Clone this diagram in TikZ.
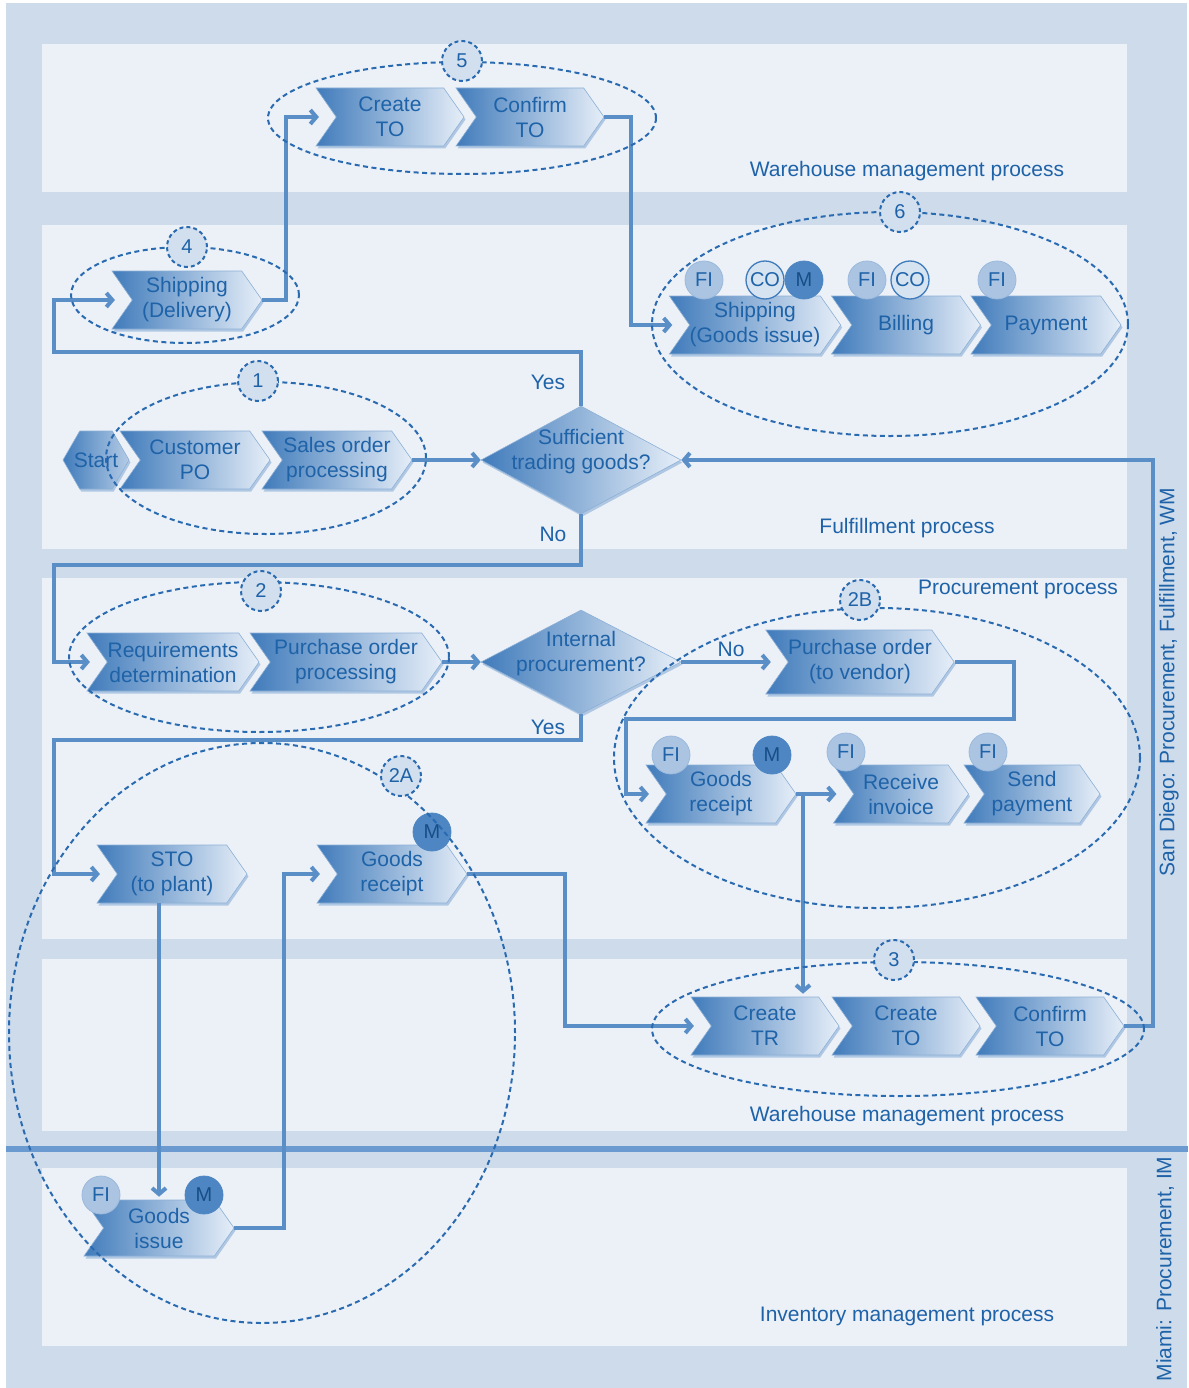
\documentclass[tikz,border=0pt]{standalone}
\usepackage{fontspec}
\setmainfont{Liberation Sans}
\usetikzlibrary{shapes.symbols,shapes.geometric,arrows.meta,shadows,calc}
\definecolor{bgouter}{HTML}{CDDBEB}
\definecolor{lanefill}{HTML}{ECF1F8}
\definecolor{txtblue}{HTML}{1E62A8}
\definecolor{linecol}{HTML}{5A8EC7}
\definecolor{dashcol}{HTML}{2A6AB0}
\definecolor{chevdark}{HTML}{407BBB}
\definecolor{chevlight}{HTML}{E6EEF8}
\definecolor{fifill}{HTML}{ABC4E2}
\definecolor{mfill}{HTML}{4D86C2}
\definecolor{cofill}{HTML}{D6E3F1}
\definecolor{numfill}{HTML}{D2DFEE}
\definecolor{divcol}{HTML}{6A9AD0}
\tikzset{
  lbl/.style={font=\fontsize{21}{25}\selectfont, text=txtblue, align=center, inner sep=0pt},
  chev/.style={signal, signal from=west, signal to=east, signal pointer angle=110,
    minimum width=#1, minimum height=58pt, inner sep=0pt,
    left color=chevdark, right color=chevlight, draw=chevdark!60, line width=0.6pt,
    drop shadow={shadow xshift=1.5pt, shadow yshift=-2.5pt, opacity=0.35, fill=chevdark},
    font=\fontsize{21}{25}\selectfont, text=txtblue, align=center},
  chev/.default=150pt,
  startbox/.style={signal, signal to=east and west, signal pointer angle=120,
    minimum width=66pt, minimum height=58pt, inner sep=0pt,
    left color=chevdark, right color=chevlight!70!chevdark, draw=chevdark!60, line width=0.6pt,
    drop shadow={shadow xshift=1.5pt, shadow yshift=-2.5pt, opacity=0.35, fill=chevdark}},
  dia/.style={diamond, minimum width=200pt, minimum height=108pt, inner sep=0pt,
    left color=chevdark, right color=chevlight, draw=chevdark!60, line width=0.6pt,
    drop shadow={shadow xshift=1.5pt, shadow yshift=-2.5pt, opacity=0.35, fill=chevdark}},
  badgefi/.style={circle, minimum size=38pt, inner sep=0pt, fill=fifill, draw=fifill!85!chevdark,
    line width=0.8pt, font=\fontsize{20}{20}\selectfont, text=txtblue},
  badgem/.style={badgefi, fill=mfill, draw=mfill, text=txtblue!80!black},
  badgeco/.style={badgefi, fill=cofill, draw=chevdark, line width=1.3pt},
  grp/.style={ellipse, inner sep=0pt, draw=dashcol, line width=2pt, dash pattern=on 5pt off 3.5pt},
  numc/.style={circle, minimum size=40pt, inner sep=0pt, fill=numfill, draw=dashcol, line width=2pt,
    dash pattern=on 4pt off 3pt, font=\fontsize{20}{20}\selectfont, text=txtblue},
  conn/.style={draw=linecol, line width=4pt, -{Straight Barb[length=6pt,width=14pt]}},
  lane/.style={fill=lanefill, draw=none},
}
\begin{document}
\begin{tikzpicture}[x=1pt,y=-1pt]
\useasboundingbox (0,0) rectangle (1188,1388);
\fill[white] (0,0) rectangle (1188,1388);
\fill[bgouter] (6,3) rectangle (1187,1388);
% lanes
\fill[lane] (42,44) rectangle (1127,192);
\fill[lane] (42,225) rectangle (1127,549);
\fill[lane] (42,578) rectangle (1127,939);
\fill[lane] (42,959) rectangle (1127,1131);
\fill[lane] (42,1168) rectangle (1127,1346);
\fill[divcol] (6,1146) rectangle (1188,1152);
% lane labels
\node[lbl] (l1) at (907,171) {Warehouse management process};
\node[lbl] (l2) at (907,528) {Fulfillment process};
\node[lbl] (l3) at (1018,589) {Procurement process};
\node[lbl] (l4) at (907,1116) {Warehouse management process};
\node[lbl] (l5) at (907,1316) {Inventory management process};
\node[lbl, rotate=90] (sd) at (1169,682) {San Diego: Procurement, Fulfillment, WM};
\node[lbl, rotate=90] (mi) at (1165,1269) {Miami: Procurement, IM};

% chevrons
\node[chev=148pt] (ct1) at (390,117) {Create\\TO};
\node[chev=148pt] (cf1) at (530,117) {Confirm\\TO};
\node[chev] (shd) at (187,300) {Shipping\\(Delivery)};
\node[chev=168pt] (shg) at (755,325) {Shipping\\(Goods issue)};
\node[chev=149pt] (bil) at (906,325) {Billing};
\node[chev] (pay) at (1046,325) {Payment};
\node[startbox] (st) at (96,460) {};
\node[lbl] (stt) at (st.center) {Start};
\node[chev] (cpo) at (195,460) {Customer\\PO};
\node[chev] (so) at (337,460) {Sales order\\processing};
\node[dia] (d1) at (581,460) {};
\node[lbl] (d1t) at (581,452) {Sufficient\\trading goods?};
\node[chev=172pt] (rd) at (173,662) {Requirements\\determination};
\node[chev=192pt] (pp) at (346,662) {Purchase order\\processing};
\node[dia, minimum height=104pt] (d2) at (581,662) {};
\node[lbl] (d2t) at (581,654) {Internal\\procurement?};
\node[chev=182pt, minimum height=64pt] (pov) at (860,662) {Purchase order\\(to vendor)};
\node[chev] (gr2b) at (721,794) {Goods\\receipt};
\node[chev=135pt] (ri) at (901,794) {Receive\\invoice};
\node[chev=136pt] (sp) at (1032,794) {Send\\payment};
\node[chev] (sto) at (172,874) {STO\\(to plant)};
\node[chev] (gr2a) at (392,874) {Goods\\receipt};
\node[chev, minimum height=56pt] (gi) at (159,1228) {Goods\\issue};
\node[chev=148pt] (ctr) at (765,1026) {Create\\TR};
\node[chev=148pt] (ct3) at (906,1026) {Create\\TO};
\node[chev=148pt] (cf3) at (1050,1026) {Confirm\\TO};

% connectors
\draw[conn] (shd.east) -- ++(24,0) |- ([xshift=-17pt]ct1.west);
\draw[conn] (cf1.east) -- ++(27,0) |- ([xshift=-17pt]shg.west);
\draw[conn] (d1.north) |- (54,352) |- ([xshift=-17pt]shd.west);
\draw[conn] (so.east) -- (d1.west);
\draw[conn] (d1.south) |- (54,565) |- ([xshift=-17pt]rd.west);
\draw[conn] (pp.east) -- (d2.west);
\draw[conn] (d2.east) -- ([xshift=-17pt]pov.west);
\draw[conn] (pov.east) -| (1014,719) -| (626,794) -- ([xshift=-17pt]gr2b.west);
\draw[conn] (gr2b.east) -- ([xshift=-17pt]ri.west);
\coordinate (jn) at (803,794);
\draw[conn] (jn) -- ([yshift=3pt]jn |- ctr.north);
\draw[conn] (d2.south) |- (54,740) |- ([xshift=-17pt]sto.west);
\draw[conn] ([xshift=-13pt]sto.south) -- ([xshift=-13pt,yshift=3pt]sto.south |- gi.north);
\draw[conn] (gi.east) -| (284,874) -- ([xshift=-17pt]gr2a.west);
\draw[conn] (gr2a.east) -| (565,1026) -- ([xshift=-17pt]ctr.west);
\draw[conn] (cf3.east) -| (1153,460) -- (d1.east);

% decision labels
\node[lbl] (y1) at (548,382) {Yes};
\node[lbl] (n1) at (553,534) {No};
\node[lbl] (n2) at (731,649) {No};
\node[lbl] (y2) at (548,727) {Yes};

% badges
\node[badgefi] (b1) at (704,280) {FI};
\node[badgeco] (b2) at (765,280) {CO};
\node[badgem] (b3) at (804,280) {M};
\node[badgefi] (b4) at (867,280) {FI};
\node[badgeco] (b5) at (910,280) {CO};
\node[badgefi] (b6) at (997,280) {FI};
\node[badgefi] (b7) at (671,755) {FI};
\node[badgem] (b8) at (772,755) {M};
\node[badgefi] (b9) at (846,752) {FI};
\node[badgefi] (b10) at (988,752) {FI};
\node[badgem] (b11) at (432,832) {M};
\node[badgefi] (b12) at (101,1195) {FI};
\node[badgem] (b13) at (204,1195) {M};

% groups
\node[grp, minimum width=388pt, minimum height=112pt] (g5) at (462,118) {};
\node[grp, minimum width=228pt, minimum height=96pt] (g4) at (185,295) {};
\node[grp, minimum width=476pt, minimum height=224pt] (g6) at (890,324) {};
\node[grp, minimum width=320pt, minimum height=152pt] (g1) at (266,458) {};
\node[grp, minimum width=380pt, minimum height=150pt] (g2) at (259,657) {};
\node[grp, minimum width=526pt, minimum height=300pt] (g2b) at (877,758) {};
\node[grp, minimum width=506pt, minimum height=580pt] (g2a) at (262,1033) {};
\node[grp, minimum width=492pt, minimum height=134pt] (g3) at (898,1029) {};
\node[numc] (n5c) at (462,61) {5};
\node[numc] (n4c) at (187,247) {4};
\node[numc] (n6c) at (900,212) {6};
\node[numc] (n1c) at (258,381) {1};
\node[numc] (n2c) at (261,591) {2};
\node[numc] (n2bc) at (860,600) {2B};
\node[numc] (n2ac) at (401,776) {2A};
\node[numc] (n3c) at (894,960) {3};
\end{tikzpicture}
\end{document}
